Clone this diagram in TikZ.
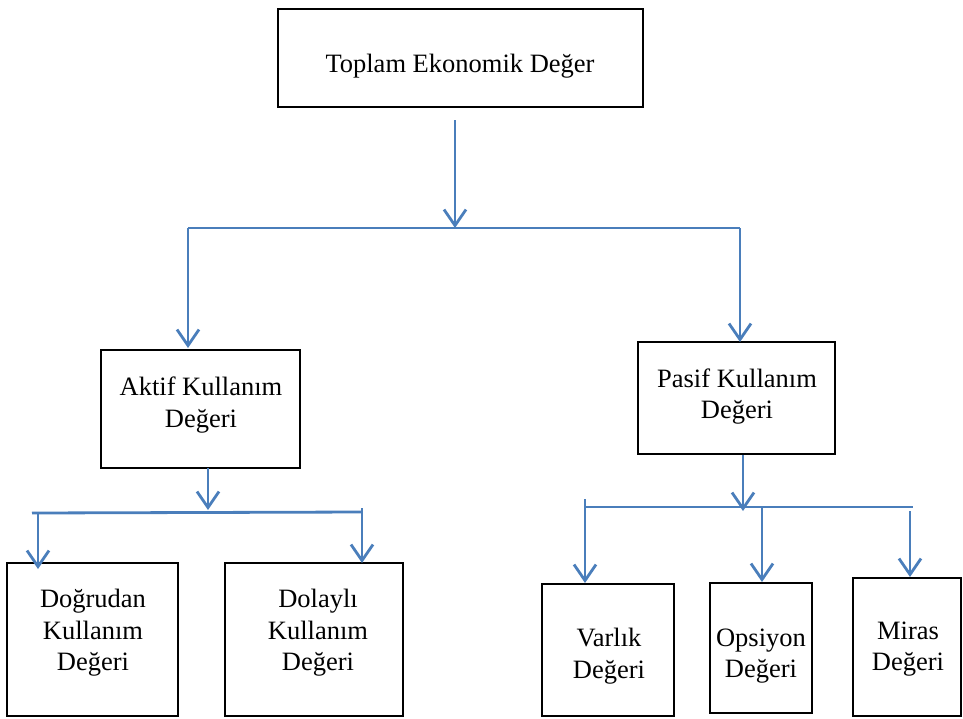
\documentclass[tikz,border=0pt]{standalone}
\usepackage{fontspec}
\setmainfont{Liberation Serif}
\usetikzlibrary{arrows.meta}
\definecolor{connblue}{HTML}{4A7EBB}
\tikzset{
  box/.style={draw=black, line width=2.6pt, inner sep=0pt},
  txt/.style={inner sep=0pt, align=center, font=\fontsize{26.5}{31.5}\selectfont},
  conn/.style={draw=connblue, line width=2.8pt},
  arr/.style={conn, -{Straight Barb[length=16pt,width=22pt]}}
}
\begin{document}
\begin{tikzpicture}[x=1pt,y=-1pt]
\useasboundingbox (0,0) rectangle (963,718);
% boxes
\node[box, minimum width=365pt, minimum height=98pt] (top) at (460.5,58) {};
\node[box, minimum width=199pt, minimum height=118pt] (aktif) at (200.5,409) {};
\node[box, minimum width=197pt, minimum height=112pt] (pasif) at (736.5,398) {};
\node[box, minimum width=171pt, minimum height=153pt] (dog) at (92.5,639.5) {};
\node[box, minimum width=178pt, minimum height=153pt] (dol) at (314,639.5) {};
\node[box, minimum width=132pt, minimum height=132pt] (var) at (608,650) {};
\node[box, minimum width=102pt, minimum height=130pt] (ops) at (761,648) {};
\node[box, minimum width=108pt, minimum height=138pt] (mir) at (907,647) {};
% texts
\node[txt] (topt) at (460,66) {Toplam Ekonomik Değer};
\node[txt] (aktift) at (201,405) {Aktif Kullanım\\Değeri};
\node[txt] (pasift) at (737,396.5) {Pasif Kullanım\\Değeri};
\node[txt] (dogt) at (93,633) {Doğrudan\\Kullanım\\Değeri};
\node[txt] (dolt) at (318,633) {Dolaylı\\Kullanım\\Değeri};
\node[txt] (vart) at (609,656) {Varlık\\Değeri};
\node[txt] (opst) at (761,656) {Opsiyon\\Değeri};
\node[txt] (mirt) at (908,649) {Miras\\Değeri};
% level 1 connectors
\coordinate (t1) at (455,120);
\coordinate (j1) at (455,228);
\coordinate (hl1) at (188,228);
\coordinate (hr1) at (740,228);
\coordinate (el1) at (188,348);
\coordinate (er1) at (740,342);
\draw[arr] (t1) -- (j1);
\draw[conn] (hl1) -- (hr1);
\draw[arr] (hl1) -- (el1);
\draw[arr] (hr1) -- (er1);
% aktif connectors
\coordinate (a1) at (208,468);
\coordinate (a2) at (208,510);
\coordinate (al) at (32,513);
\coordinate (ar) at (362,512);
\coordinate (alv) at (38,513);
\coordinate (ale) at (38,569);
\coordinate (arv) at (362,508);
\coordinate (are) at (362,563);
\draw[arr] (a1) -- (a2);
\draw[conn] (al) -- (ar);
\draw[arr] (alv) -- (ale);
\draw[arr] (arv) -- (are);
% pasif connectors
\coordinate (p1) at (743,455);
\coordinate (p2) at (743,511);
\coordinate (pl) at (585,507);
\coordinate (pr) at (913,507);
\coordinate (plv) at (585,499);
\coordinate (ple) at (585,583);
\coordinate (pmv) at (762,507);
\coordinate (pme) at (762,582);
\coordinate (prv) at (910,511);
\coordinate (pre) at (910,577);
\draw[arr] (p1) -- (p2);
\draw[conn] (pl) -- (pr);
\draw[arr] (plv) -- (ple);
\draw[arr] (pmv) -- (pme);
\draw[arr] (prv) -- (pre);
\end{tikzpicture}
\end{document}
